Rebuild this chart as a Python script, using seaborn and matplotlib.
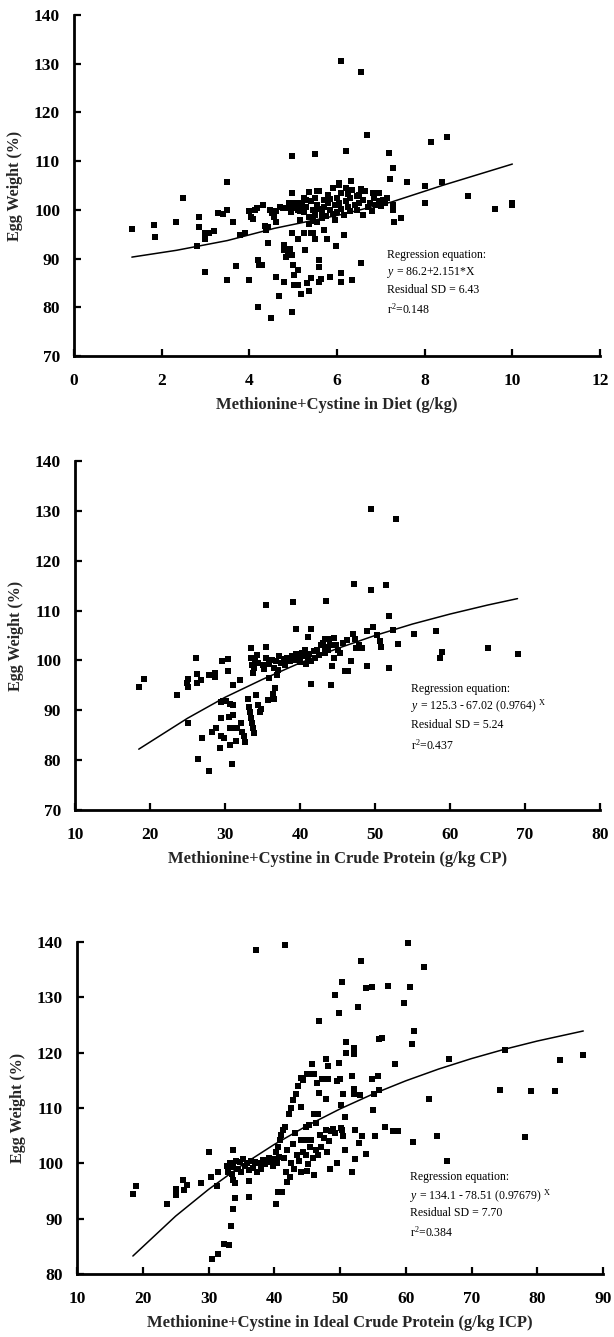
import numpy as np
import pandas as pd
import matplotlib
matplotlib.use("Agg")
import matplotlib.pyplot as plt
import seaborn as sns

sns.set_theme(style="ticks")
plt.rcParams['font.family'] = ['Liberation Serif', 'DejaVu Serif']
plt.rcParams['mathtext.fontset'] = 'custom'
plt.rcParams['mathtext.rm'] = 'Liberation Serif'
plt.rcParams['mathtext.it'] = 'Liberation Serif:italic'

# ---------------- Panel 1 data: Met+Cys in diet (g/kg) ----------------
p1_x = [1.32, 1.83, 1.84, 2.32, 2.48, 2.81, 2.86, 2.86, 2.98, 2.98, 2.98, 3.08, 3.19, 3.29, 3.41,
        3.48, 3.50, 3.50, 3.63, 3.70, 3.79, 3.90, 3.99, 3.99, 4.03, 4.08, 4.12, 4.17, 4.20, 4.21,
        4.28, 4.20, 4.32, 4.35, 4.39, 4.43, 4.42, 4.50, 4.48, 4.52, 4.57, 4.61, 4.61, 4.60, 4.67,
        4.76, 4.79, 4.79, 4.84, 4.88, 4.92, 4.97, 4.79, 4.90, 4.98, 4.98, 4.98, 4.98, 4.99, 5.01,
        5.03, 5.10, 5.10, 5.10, 5.06, 5.15, 5.19, 5.19, 5.24, 5.28, 5.32, 5.37, 5.37, 5.41, 5.46,
        5.41, 5.49, 5.50, 5.55, 5.59, 5.59, 5.59, 5.64, 5.71, 5.77, 5.84, 5.98, 6.04, 6.10, 6.10,
        6.10, 6.15, 6.20, 6.32, 6.35, 6.54, 6.55, 6.69, 6.81, 7.18, 7.20, 7.28, 7.28, 7.28, 7.30,
        7.46, 7.60, 8.01, 8.01, 8.15, 8.40, 8.50, 8.99, 9.60, 10.0, 10.0,
        5.20, 5.25, 5.30, 5.35, 5.40, 5.45, 5.50, 5.50, 5.55, 5.60, 5.60, 5.65, 5.70, 5.70, 5.75,
        5.80, 5.80, 5.85, 5.90, 5.90, 5.95, 6.00, 6.00, 6.05, 6.05, 6.10, 6.10, 6.15, 6.20, 6.20,
        6.25, 6.30, 6.30, 6.35, 6.40, 6.45, 6.50, 6.50, 6.55, 6.60, 6.60, 6.70, 6.75, 6.80, 6.85,
        6.90, 6.95, 7.00, 7.05, 7.10, 5.35, 5.45, 5.10, 5.00, 4.95, 5.15, 5.25, 5.05, 4.85, 4.70,
        5.55, 5.65, 5.85, 6.25, 6.45, 6.65, 6.95, 7.15, 5.30, 5.95]
p1_y = [96.0, 96.9, 94.5, 97.6, 102.4, 92.6, 98.6, 96.4, 87.2, 95.2, 94.1, 95.2, 95.7, 99.3, 99.2,
        100.0, 105.7, 85.7, 97.5, 88.5, 94.8, 95.2, 85.5, 99.7, 98.6, 98.1, 100.0, 100.3, 89.8, 88.6,
        88.6, 80.1, 101.0, 96.6, 95.9, 96.4, 93.1, 77.7, 100.0, 99.3, 98.6, 99.7, 97.6, 86.3, 82.3,
        100.3, 92.8, 91.7, 90.3, 91.4, 91.9, 90.7, 85.2, 101.4, 111.0, 79.0, 103.4, 95.2, 88.6, 86.6,
        84.5, 84.5, 87.6, 94.1, 100.3, 99.7, 101.4, 82.8, 95.2, 91.7, 85.0, 83.4, 103.6, 95.2, 95.2,
        86.0, 111.4, 94.1, 103.8, 89.7, 88.3, 85.2, 85.9, 95.9, 94.1, 86.2, 92.6, 105.2, 130.5, 87.0,
        85.2, 94.8, 112.1, 105.9, 85.5, 128.3, 89.0, 115.3, 103.4, 111.7, 106.3, 108.6, 100.0, 101.0, 97.6,
        98.3, 105.7, 104.9, 101.4, 114.0, 105.7, 115.0, 102.8, 100.2, 101.0, 101.4,
        101.0, 99.5, 100.5, 98.5, 101.8, 100.0, 102.5, 99.0, 101.0, 100.2, 103.8, 99.5, 102.0, 100.5, 98.8,
        101.5, 103.0, 100.0, 104.5, 99.2, 101.0, 102.5, 99.5, 105.5, 101.5, 100.2, 103.5, 99.0, 101.8, 104.5,
        100.5, 102.5, 99.8, 104.0, 101.0, 100.0, 103.0, 101.5, 104.2, 99.0, 102.0, 100.5, 101.5, 99.8, 102.5,
        101.0, 103.5, 100.8, 102.0, 101.5, 97.0, 97.8, 100.0, 100.5, 99.5, 98.0, 102.5, 101.5, 100.3, 100.5,
        97.5, 98.3, 102.3, 103.2, 102.8, 103.8, 101.8, 102.5, 102.0, 98.0]
p1_line_x = [1.32, 2.34, 3.5, 4.57, 6.08, 7.24, 8.4, 10.0]
p1_line_y = [90.3, 91.7, 93.7, 96.2, 99.0, 101.6, 105.0, 109.4]

# ---------------- Panel 2 data: Met+Cys in crude protein ----------------
p2_x = [18.55, 19.18, 23.6, 25.1, 24.9, 25.0, 25.1, 26.1, 26.2, 26.2, 26.4, 26.8, 26.95, 27.9, 28.7,
        28.7, 27.8, 28.3, 28.8, 29.3, 29.4, 29.4, 29.7, 29.5, 29.8, 29.6, 30.1, 30.4, 30.4, 30.5,
        30.7, 30.9, 30.7, 31.1, 31.1, 31.1, 30.6, 31.1, 31.6, 31.5, 32.0, 32.1, 32.3, 32.5, 32.7,
        33.1, 33.2, 33.3, 33.5, 33.6, 33.7, 33.9, 33.4, 33.5, 33.6, 33.7, 33.9, 34.0, 34.2, 34.4,
        34.1, 34.4, 34.6, 34.8, 35.4, 35.4, 35.7, 35.9, 36.4, 36.6, 36.9, 36.5, 35.0, 35.2, 35.5,
        35.8, 36.2, 36.5, 36.8, 37.0, 37.2, 37.5, 37.8, 38.0, 38.3, 38.6, 38.9, 39.2, 39.5, 39.8,
        40.0, 40.2, 40.5, 40.7, 41.0, 41.2, 41.5, 41.8, 42.0, 42.3, 42.5, 42.8, 39.0, 39.4, 40.8,
        41.4, 41.4, 41.1, 43.5, 43.0, 43.3, 43.6, 43.9, 43.3, 43.3, 43.7, 44.0, 44.5, 44.8, 45.0,
        44.1, 44.2, 44.5, 45.3, 45.7, 46.0, 46.4, 46.8, 46.2, 47.2, 47.0, 47.3, 47.5, 47.8, 48.2,
        48.9, 48.9, 49.5, 49.5, 49.7, 50.2, 50.7, 50.8, 51.5, 51.8, 51.8, 52.4, 52.8, 53.0, 55.2,
        58.1, 58.6, 58.9, 65.1, 69.1]
p2_y = [94.7, 96.2, 93.0, 87.5, 95.5, 94.7, 96.2, 100.5, 97.2, 95.4, 80.2, 96.1, 84.5, 97.1, 96.6,
        97.4, 77.8, 85.6, 86.5, 82.4, 88.4, 91.6, 91.8, 84.8, 84.5, 99.8, 91.8, 100.2, 97.8, 88.6,
        83.1, 79.3, 91.3, 91.1, 95.1, 89.0, 86.5, 86.5, 86.5, 83.8, 96.1, 87.5, 85.6, 84.8, 83.6,
        92.3, 90.6, 89.6, 88.5, 87.5, 86.5, 85.5, 102.4, 100.5, 99.0, 97.5, 98.5, 100.0, 101.0, 99.5,
        93.1, 91.0, 89.6, 90.2, 111.2, 102.6, 92.0, 96.4, 93.3, 94.5, 97.1, 92.2, 99.0, 98.2, 100.5,
        99.3, 100.0, 98.5, 99.8, 98.0, 100.8, 99.5, 100.2, 99.0, 100.5, 99.8, 100.9, 100.0, 101.2, 100.5,
        99.6, 101.5, 100.8, 102.0, 100.3, 101.2, 99.8, 101.8, 100.5, 102.0, 101.0, 103.0, 111.7, 106.3, 99.2,
        106.3, 95.2, 104.6, 111.9, 103.5, 104.3, 104.3, 104.3, 102.6, 101.5, 102.0, 103.0, 104.5, 103.0, 102.0,
        95.1, 98.8, 100.5, 101.5, 103.5, 97.9, 97.9, 99.8, 104.0, 115.4, 105.3, 104.3, 102.5, 103.0, 102.5,
        98.9, 106.0, 114.2, 130.4, 106.7, 105.0, 103.9, 102.7, 115.1, 108.9, 98.5, 106.1, 128.4, 103.3, 105.3,
        106.0, 100.5, 101.7, 102.4, 101.2]
p2_line_x = [18.5, 25, 30, 35, 40, 45, 50, 55, 60, 65, 69]
p2_line_y = [82.2, 88.4, 92.6, 96.2, 99.5, 102.4, 105.0, 107.3, 109.3, 111.1, 112.4]

# ---------------- Panel 3 data: Met+Cys in ideal crude protein ----------------
p3_x = [18.5, 19.0, 23.7, 25.0, 25.0, 26.1, 26.2, 26.8, 28.8, 30.0, 30.4, 30.5, 31.4, 31.3, 31.4,
        32.3, 33.1, 33.4, 32.8, 33.0, 33.2, 33.5, 33.8, 33.7, 33.8, 34.0, 33.8, 34.0, 34.2, 34.5,
        34.8, 35.0, 35.3, 35.6, 35.9, 36.2, 36.5, 36.8, 37.1, 37.4, 37.7, 38.0, 38.3, 38.6, 38.9,
        39.2, 39.5, 39.8, 40.1, 40.4, 40.7, 36.2, 36.2, 37.2, 40.2, 41.2, 40.6, 41.6, 40.2, 40.5,
        40.8, 41.1, 41.4, 41.7, 42.0, 42.3, 42.6, 42.9, 43.3, 43.6, 44.0, 44.1, 44.4, 45.0, 45.5,
        46.0, 45.8, 44.1, 44.6, 45.1, 45.6, 44.1, 45.0, 46.1, 46.4, 46.6, 46.8, 46.8, 47.0, 47.3,
        47.8, 48.1, 47.9, 48.2, 48.5, 48.7, 49.3, 49.5, 49.5, 49.9, 49.9, 50.0, 50.1, 50.1, 50.3,
        50.4, 50.5, 50.7, 50.9, 50.9, 50.7, 51.8, 51.9, 52.1, 52.1, 52.1, 52.1, 52.3, 52.3, 52.7,
        52.9, 53.0, 53.2, 53.3, 53.9, 54.0, 54.9, 54.9, 55.05, 55.2, 55.3, 55.8, 55.9, 55.9, 56.4,
        56.8, 57.3, 58.0, 58.3, 58.8, 59.8, 60.3, 60.7, 60.9, 61.1, 61.2, 62.8, 63.5, 64.7, 66.2,
        66.6, 74.4, 75.1, 78.2, 79.0, 82.7, 83.4, 87.0,
        41.5, 42.0, 42.5, 42.8, 43.2, 43.5, 43.8, 44.3, 44.8, 45.2, 45.5, 45.9, 46.3, 46.7, 47.1,
        47.5, 47.8, 48.0, 48.3, 42.4, 43.0, 41.8, 44.8, 45.3, 46.0, 46.5, 49.0, 49.2, 50.3]
p3_y = [94.4, 95.9, 92.6, 95.4, 94.2, 97.0, 95.1, 96.0, 96.5, 102.0, 97.5, 82.8, 83.7, 95.9, 98.4,
        85.4, 85.2, 88.6, 99.5, 98.5, 100.0, 98.0, 99.3, 96.9, 102.5, 93.8, 91.8, 96.5, 100.5, 99.0,
        100.2, 98.5, 100.8, 99.5, 100.0, 98.8, 100.5, 99.2, 100.3, 98.5, 100.0, 99.0, 100.6, 99.8, 100.2,
        101.0, 100.3, 99.6, 100.8, 100.0, 101.2, 94.0, 96.8, 138.6, 92.7, 94.9, 94.8, 139.4, 102.0, 103.0,
        104.2, 105.2, 106.0, 106.6, 96.7, 109.0, 110.0, 111.5, 112.5, 114.0, 115.5, 110.2, 115.0, 116.1, 116.1,
        116.1, 117.9, 104.3, 104.3, 104.3, 104.3, 98.5, 98.7, 97.9, 107.2, 109.0, 125.7, 112.7, 105.2, 115.3,
        118.8, 117.6, 111.6, 115.2, 98.9, 105.8, 130.5, 114.9, 100.1, 127.1, 118.2, 115.2, 110.5, 106.4, 132.7,
        112.6, 104.9, 108.4, 121.9, 120.0, 102.5, 98.4, 115.8, 120.9, 119.7, 113.5, 112.6, 106.1, 100.7, 128.3,
        103.7, 112.3, 136.6, 104.9, 131.6, 101.7, 131.8, 115.2, 109.6, 112.6, 105.0, 115.8, 122.5, 113.2, 122.6,
        106.6, 132.1, 105.8, 117.9, 105.8, 129.0, 139.8, 131.8, 121.5, 103.8, 123.9, 135.4, 111.6, 104.9, 100.4,
        118.9, 113.3, 120.4, 104.8, 113.0, 113.0, 118.6, 119.6,
        101.0, 102.5, 100.0, 103.5, 105.5, 101.5, 100.5, 102.0, 101.5, 99.8, 103.0, 101.0, 102.5, 101.5, 103.0,
        104.5, 106.0, 102.0, 104.0, 97.5, 99.0, 98.5, 106.5, 107.0, 109.0, 114.5, 106.2, 105.5, 106.0]
p3_line_x = [18.5, 25, 30, 35, 40, 45, 50, 55, 60, 65, 70, 75, 80, 87]
p3_line_y = [83.25, 90.46, 95.28, 99.59, 103.41, 106.81, 109.83, 112.52, 114.91, 117.04, 118.93, 120.61, 122.10, 123.92]

H = 1337.0
W = 614.0
panels = [
    dict(x=p1_x, y=p1_y, lx=p1_line_x, ly=p1_line_y,
         xlim=(0, 12), xticks=[0, 2, 4, 6, 8, 10, 12], ylim=(70, 140), yticks=[70, 80, 90, 100, 110, 120, 130, 140],
         xlabel="Methionine+Cystine in Diet (g/kg)",
         txt=["Regression equation:", r"$\mathit{y}$ = 86.2+2.151*X", "Residual SD = 6.43", r"r$^{2}$=0.148"],
         tx=7.15, ty=[90.8, 87.1, 83.5, 79.6],
         top=15, bottom=356, left=74, right=600),
    dict(x=p2_x, y=p2_y, lx=p2_line_x, ly=p2_line_y,
         xlim=(10, 80), xticks=[10, 20, 30, 40, 50, 60, 70, 80], ylim=(70, 140), yticks=[70, 80, 90, 100, 110, 120, 130, 140],
         xlabel="Methionine+Cystine in Crude Protein (g/kg CP)",
         txt=["Regression equation:", r"$\mathit{y}$ = 125.3 - 67.02 (0.9764) $^{\mathrm{X}}$", "Residual SD = 5.24", r"r$^{2}$=0.437"],
         tx=54.8, ty=[94.3, 90.9, 87.0, 82.9],
         top=461, bottom=810, left=75, right=600),
    dict(x=p3_x, y=p3_y, lx=p3_line_x, ly=p3_line_y,
         xlim=(10, 90), xticks=[10, 20, 30, 40, 50, 60, 70, 80, 90], ylim=(80, 140), yticks=[80, 90, 100, 110, 120, 130, 140],
         xlabel="Methionine+Cystine in Ideal Crude Protein (g/kg ICP)",
         txt=["Regression equation:", r"$\mathit{y}$ = 134.1 - 78.51 (0.97679) $^{\mathrm{X}}$", "Residual SD = 7.70", r"r$^{2}$=0.384"],
         tx=60.7, ty=[97.5, 94.1, 91.0, 87.6],
         top=942, bottom=1274, left=77, right=603),
]

fig = plt.figure(figsize=(6.14, 13.37), dpi=100)
for p in panels:
    pos = [p['left'] / W, 1 - p['bottom'] / H, (p['right'] - p['left']) / W, (p['bottom'] - p['top']) / H]
    ax = fig.add_axes(pos)
    df = pd.DataFrame({'x': p['x'], 'y': p['y']})
    sns.scatterplot(data=df, x='x', y='y', marker='s', s=14, color='black', linewidth=0, ax=ax, clip_on=False)
    ldf = pd.DataFrame({'x': p['lx'], 'y': p['ly']})
    sns.lineplot(data=ldf, x='x', y='y', color='black', linewidth=1.1, ax=ax, sort=True, estimator=None)
    ax.set_xlim(*p['xlim'])
    ax.set_ylim(*p['ylim'])
    ax.set_xticks(p['xticks'])
    ax.set_yticks(p['yticks'])
    for s in ['top', 'right']:
        ax.spines[s].set_visible(False)
    for s in ['left', 'bottom']:
        ax.spines[s].set_linewidth(2.0)
        ax.spines[s].set_color('black')
    ax.tick_params(direction='in', length=5, width=1.6, colors='black', labelsize=12.5)
    ax.tick_params(axis='x', pad=12)
    ax.tick_params(axis='y', pad=10)
    for lab in ax.get_xticklabels() + ax.get_yticklabels():
        lab.set_fontweight('bold')
    ax.set_xlabel(p['xlabel'], fontsize=12, fontweight='bold', labelpad=6)
    ax.set_ylabel("Egg Weight (%)", fontsize=11.5, fontweight='bold')
    ax.yaxis.set_label_coords(-0.097, 0.5)
    ax.set_facecolor('white')
    for t, yy in zip(p['txt'], p['ty']):
        ax.text(p['tx'], yy, t, fontsize=8.5, va='center', ha='left', color='black')

fig.savefig("out.png", dpi=100, facecolor='white')
